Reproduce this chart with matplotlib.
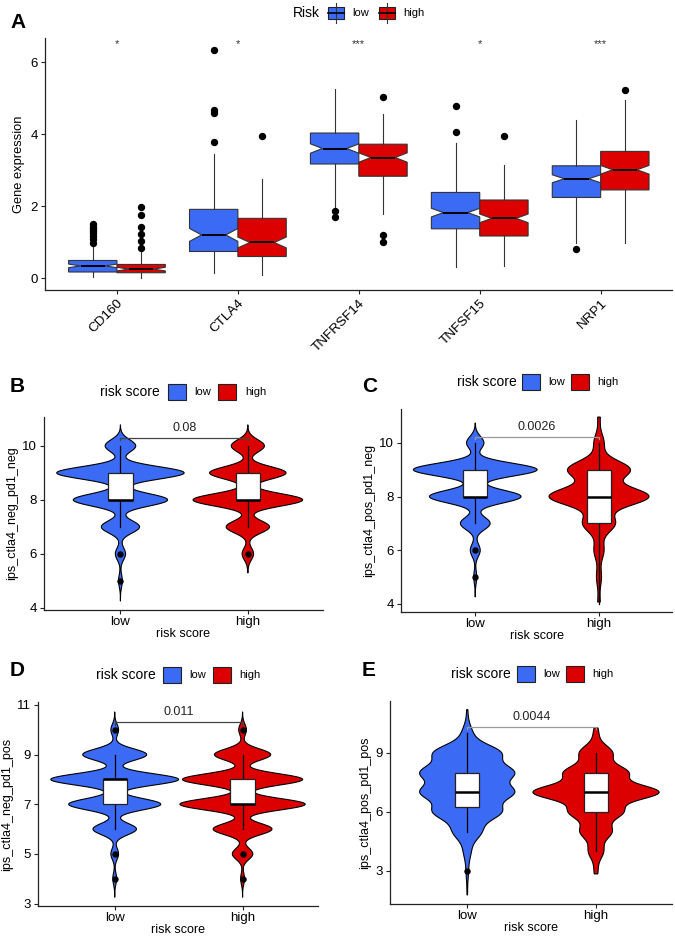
import numpy as np
import matplotlib
matplotlib.use("Agg")
import matplotlib.pyplot as plt
from matplotlib.patches import Rectangle
from matplotlib.lines import Line2D

W, H = 675, 936
BLUE = "#3B6BF5"
RED = "#DC0000"
plt.rcParams["font.family"] = ["Liberation Sans", "DejaVu Sans"]

# ---------------- panel A : notched boxplots ----------------
genes = ["CD160", "CTLA4", "TNFRSF14", "TNFSF15", "NRP1"]
stars = ["*", "*", "***", "*", "***"]

low_q1 = [0.17, 0.74, 3.17, 1.37, 2.24]
low_med = [0.34, 1.20, 3.60, 1.82, 2.76]
low_q3 = [0.49, 1.91, 4.03, 2.38, 3.12]
low_whislo = [0.03, 0.15, 1.98, 0.30, 0.97]
low_whishi = [0.92, 3.46, 5.25, 3.75, 4.40]
low_notch = [0.05, 0.18, 0.13, 0.12, 0.11]
low_fliers = [[0.98, 1.10, 1.18, 1.25, 1.30, 1.36, 1.42, 1.50],
              [3.78, 4.58, 4.68, 6.33], [1.69, 1.86], [4.06, 4.79], [0.81]]

high_q1 = [0.15, 0.60, 2.83, 1.17, 2.45]
high_med = [0.25, 0.99, 3.35, 1.66, 3.01]
high_q3 = [0.38, 1.66, 3.72, 2.17, 3.52]
high_whislo = [0.00, 0.10, 1.79, 0.34, 0.97]
high_whishi = [0.72, 2.76, 4.56, 3.13, 4.94]
high_notch = [0.05, 0.15, 0.13, 0.12, 0.12]
high_fliers = [[0.83, 1.03, 1.22, 1.43, 1.75, 1.97], [3.94], [1.01, 1.20, 5.03],
               [3.94], [5.22]]

# ---------------- violin panels ----------------
levels = np.arange(2, 12)  # 2..11
# half-width weights per integer level (2..11)
B_low_w = [0, 0, 0, 0.015, 0.04, 0.15, 0.37, 0.50, 0.12, 0]
B_high_w = [0, 0, 0, 0.005, 0.045, 0.17, 0.43, 0.30, 0.13, 0]
C_low_w = [0, 0, 0, 0.012, 0.04, 0.12, 0.37, 0.50, 0.07, 0]
C_high_w = [0, 0, 0.01, 0.02, 0.04, 0.13, 0.40, 0.25, 0.04, 0.01]
D_low_w = [0, 0, 0.015, 0.03, 0.17, 0.36, 0.50, 0.25, 0.03, 0]
D_high_w = [0, 0, 0.015, 0.08, 0.23, 0.49, 0.47, 0.22, 0.03, 0]
E_low_w = [0.005, 0.02, 0.06, 0.23, 0.55, 0.75, 0.75, 0.55, 0.08, 0.01]
E_high_w = [0, 0.03, 0.12, 0.25, 0.42, 1.0, 0.5, 0.26, 0.04, 0]

panels = {
    "B": dict(ylabel="ips_ctla4_neg_pd1_neg", p="0.08", ticks=[4, 6, 8, 10],
              ylim=(3.92, 11.07), box=(44, 417, 323, 610), bracket=10.3, bcol="#444444",
              low=dict(w=B_low_w, rng=(4.25, 10.78), sd=0.23, q1=8, med=8, q3=9, wl=7, wh=10, fl=[6, 5]),
              high=dict(w=B_high_w, rng=(5.3, 10.78), sd=0.23, q1=8, med=8, q3=9, wl=7, wh=10, fl=[6])),
    "C": dict(ylabel="ips_ctla4_pos_pd1_neg", p="0.0026", ticks=[4, 6, 8, 10],
              ylim=(3.7, 11.26), box=(401, 409, 672, 612), bracket=10.22, bcol="#999999",
              low=dict(w=C_low_w, rng=(4.26, 10.74), sd=0.24, q1=8, med=8, q3=9, wl=7, wh=10, fl=[6, 5]),
              high=dict(w=C_high_w, rng=(4.07, 10.96), sd=0.33, q1=7, med=8, q3=9, wl=4, wh=10, fl=[])),
    "D": dict(ylabel="ips_ctla4_neg_pd1_pos", p="0.011", ticks=[3, 5, 7, 9, 11],
              ylim=(2.9, 11.12), box=(38, 702, 318, 906), bracket=10.31, bcol="#444444",
              low=dict(w=D_low_w, rng=(3.25, 10.72), sd=0.23, q1=7, med=8, q3=8, wl=6, wh=9, fl=[10, 5, 4]),
              high=dict(w=D_high_w, rng=(3.25, 10.72), sd=0.23, q1=7, med=7, q3=8, wl=6, wh=9, fl=[10, 5, 4])),
    "E": dict(ylabel="ips_ctla4_pos_pd1_pos", p="0.0044", ticks=[3, 6, 9],
              ylim=(1.32, 11.64), box=(390, 701, 672, 904), bracket=10.32, bcol="#999999",
              low=dict(w=E_low_w, rng=(1.78, 11.2), sd=0.42, scale=0.37, q1=6.25, med=7, q3=8, wl=5, wh=10, fl=[3]),
              high=dict(w=E_high_w, rng=(2.85, 10.27), sd=0.38, scale=0.49, q1=6, med=7, q3=8, wl=4, wh=9, fl=[])),
}
legend_pos = {  # x of "risk score", y centre, blue box x, low x, red box x, high x
    "B": (100, 392, 168, 194, 218, 245),
    "C": (457, 382, 522, 548, 571, 597),
    "D": (96, 675, 163, 189, 213, 239),
    "E": (451, 674, 517, 543, 566, 592),
}
letter_pos = {"A": (10, 22), "B": (10, 387), "C": (362, 387), "D": (10, 670), "E": (362, 670)}

fig = plt.figure(figsize=(W / 100, H / 100), dpi=100)


def px_axes(l, t, r, b):
    return fig.add_axes([l / W, 1 - b / H, (r - l) / W, (b - t) / H])


def ftext(x, y, s, **kw):
    fig.text(x / W, 1 - y / H, s, **kw)


def fbox(x0, x1, y0, y1, color):
    fig.add_artist(Rectangle((x0 / W, 1 - y1 / H), (x1 - x0) / W, (y1 - y0) / H,
                             transform=fig.transFigure, facecolor=color,
                             edgecolor="#222222", lw=0.8))


def fline(xs, ys, **kw):
    fig.add_artist(Line2D([x / W for x in xs], [1 - y / H for y in ys],
                          transform=fig.transFigure, **kw))


def style(ax):
    for s in ["top", "right"]:
        ax.spines[s].set_visible(False)
    for s in ["left", "bottom"]:
        ax.spines[s].set_linewidth(0.9)
        ax.spines[s].set_color("#222222")
    ax.tick_params(length=3, width=0.8, color="#222222", labelsize=9.5, pad=2)


# ---- panel A
axA = px_axes(45, 38, 672, 290)
style(axA)
pos = np.arange(len(genes))
for q1s, meds, q3s, wls, whs, nts, fls, off, col in [
        (low_q1, low_med, low_q3, low_whislo, low_whishi, low_notch, low_fliers, -0.2, BLUE),
        (high_q1, high_med, high_q3, high_whislo, high_whishi, high_notch, high_fliers, 0.2, RED)]:
    stats = [dict(q1=q1s[i], med=meds[i], q3=q3s[i], whislo=wls[i], whishi=whs[i],
                  fliers=fls[i], cilo=meds[i] - nts[i], cihi=meds[i] + nts[i])
             for i in range(len(genes))]
    axA.bxp(stats, positions=pos + off, widths=0.4, shownotches=True, showcaps=False,
            patch_artist=True, manage_ticks=False,
            boxprops=dict(facecolor=col, edgecolor="#333333", lw=0.8),
            medianprops=dict(color="black", lw=1.4),
            whiskerprops=dict(color="#333333", lw=0.8),
            flierprops=dict(marker="o", markerfacecolor="black", markeredgecolor="black",
                            markersize=4.3))
for i, s in enumerate(stars):
    axA.text(i, 6.5, s, ha="center", va="center", fontsize=8, color="#333333")
axA.set_xlim(-0.595, 4.59)
axA.set_ylim(-0.33, 6.67)
axA.set_yticks([0, 2, 4, 6])
axA.set_xticks(pos)
axA.set_xticklabels(genes, rotation=45, ha="right", va="top", rotation_mode="anchor",
                    fontsize=9.7)
axA.set_ylabel("Gene expression", fontsize=9.3, labelpad=4)

# legend A
ftext(293, 13, "Risk", fontsize=10, va="center", ha="left")
for x0, col, lab in [(328, BLUE, "low"), (379, RED, "high")]:
    fline([x0 + 8, x0 + 8], [3, 23], color="#333333", lw=0.8)
    fbox(x0, x0 + 16, 7, 19, col)
    fline([x0, x0 + 16], [13, 13], color="black", lw=1.2)
    ftext(x0 + 24, 13, lab, fontsize=8, va="center", ha="left")


# ---- violin panels
def kde_shape(w, rng, sd, scale=None):
    y = np.linspace(rng[0], rng[1], 400)
    dens = np.zeros_like(y)
    for lev, wt in zip(levels, w):
        dens += wt * np.exp(-0.5 * ((y - lev) / sd) ** 2)
    if scale is not None:
        dens = dens / dens.max() * scale
    return y, dens


for key, pnl in panels.items():
    ax = px_axes(*pnl["box"])
    style(ax)
    ax.tick_params(axis="x", pad=1)
    for xi, grp, col in [(0, "low", BLUE), (1, "high", RED)]:
        g = pnl[grp]
        y, half = kde_shape(g["w"], g["rng"], g["sd"], g.get("scale"))
        xs = np.concatenate([xi - half, (xi + half)[::-1]])
        ys = np.concatenate([y, y[::-1]])
        ax.fill(xs, ys, facecolor=col, edgecolor="black", lw=0.8, zorder=1)
        ax.bxp([dict(q1=g["q1"], med=g["med"], q3=g["q3"], whislo=g["wl"], whishi=g["wh"],
                     fliers=g["fl"])], positions=[xi], widths=0.19, showcaps=False,
               patch_artist=True, manage_ticks=False,
               boxprops=dict(facecolor="white", edgecolor="#222222", lw=0.9, zorder=3),
               medianprops=dict(color="black", lw=1.8, zorder=4),
               whiskerprops=dict(color="black", lw=0.9, zorder=2),
               flierprops=dict(marker="o", markerfacecolor="black", markeredgecolor="black",
                               markersize=3.6, zorder=5))
    b = pnl["bracket"]
    tick = 0.012 * (pnl["ylim"][1] - pnl["ylim"][0])
    ax.plot([0, 0, 1, 1], [b - tick, b, b, b - tick], color=pnl["bcol"], lw=0.9, zorder=6)
    ax.text(0.5, b + 0.02 * (pnl["ylim"][1] - pnl["ylim"][0]), pnl["p"], ha="center",
            va="bottom", fontsize=9, color="#222222")
    ax.set_xlim(-0.6, 1.59)
    ax.set_ylim(*pnl["ylim"])
    ax.set_yticks(pnl["ticks"])
    ax.set_xticks([0, 1])
    ax.set_xticklabels(["low", "high"])
    ax.set_xlabel("risk score", fontsize=9, labelpad=0)
    ax.set_ylabel(pnl["ylabel"], fontsize=9, labelpad=3)

    lx, ly, bx, lowx, rx, hx = legend_pos[key]
    ftext(lx, ly, "risk score", fontsize=10, va="center", ha="left")
    fbox(bx, bx + 18, ly - 8, ly + 8, BLUE)
    ftext(lowx, ly, "low", fontsize=8, va="center", ha="left")
    fbox(rx, rx + 18, ly - 8, ly + 8, RED)
    ftext(hx, ly, "high", fontsize=8, va="center", ha="left")

for k, (x, y) in letter_pos.items():
    ftext(x, y, k, fontsize=15, fontweight="bold", va="center", ha="left")

fig.savefig("out.png", dpi=100)
